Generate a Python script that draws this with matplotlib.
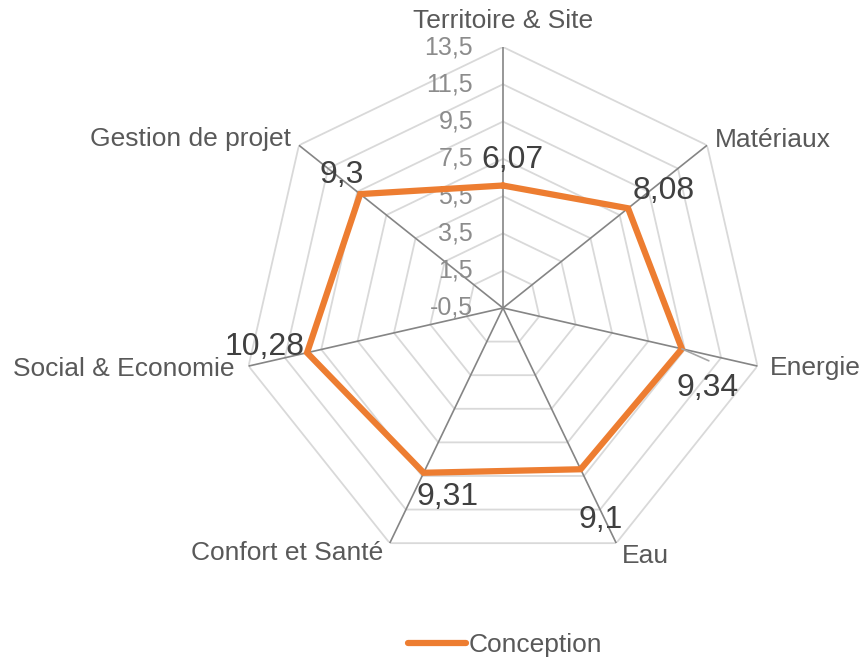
import numpy as np
import matplotlib.pyplot as plt

plt.rcParams["font.family"] = ["Liberation Sans", "DejaVu Sans"]

categories = ["Territoire & Site", "Matériaux", "Energie", "Eau",
              "Confort et Santé", "Social & Economie", "Gestion de projet"]
conception = [6.07, 8.08, 9.34, 9.1, 9.31, 10.28, 9.3]
levels = [-0.5, 1.5, 3.5, 5.5, 7.5, 9.5, 11.5, 13.5]
level_labels = ["-0,5", "1,5", "3,5", "5,5", "7,5", "9,5", "11,5", "13,5"]

# label placement (pixels from the vertex / point): dx, dy, ha
cat_offsets = [(0, 19, "center"), (8, -2, "left"), (12, -9, "left"),
               (6, -20, "left"), (-7, -17, "right"), (-14, -10, "right"),
               (-8, -1, "right")]
val_offsets = [(9, 18), (36, 9), (26, -47), (20, -59), (24, -32),
               (-42, -2), (-18, 11)]

orange = "#ED7D31"
grid_c = "#D9D9D9"
spoke_c = "#858585"

n = len(categories)
angles = np.linspace(0, 2 * np.pi, n, endpoint=False)
closed = np.append(angles, angles[0])

fig = plt.figure(figsize=(8.64, 6.59), dpi=100)
ax = fig.add_axes([242 / 864, (659 - 308 - 261) / 659, 522 / 864, 522 / 659],
                  projection="polar")
ax.set_theta_zero_location("N")
ax.set_theta_direction(-1)
ax.set_ylim(levels[0], levels[-1])
ax.grid(False)
ax.set_xticks([])
ax.set_yticks([])
ax.spines["polar"].set_visible(False)

# polygon gridlines
for lv in levels[1:]:
    ax.plot(closed, [lv] * (n + 1), color=grid_c, lw=1.3, zorder=1)

# spokes
for a in angles:
    ax.plot([a, a], [levels[0], levels[-1]], color=spoke_c, lw=1.2, zorder=2)

# radial value labels along the top spoke
for lv, lbl in zip(levels, level_labels):
    ax.annotate(lbl, xy=(0, lv), xytext=(-30, 0), textcoords="offset pixels",
                ha="right", va="center", fontsize=18, color="#8C8C8C",
                annotation_clip=False)

# category labels
for a, cat, (dx, dy, ha) in zip(angles, categories, cat_offsets):
    ax.annotate(cat, xy=(a, levels[-1]), xytext=(dx, dy),
                textcoords="offset pixels", ha=ha, va="baseline",
                fontsize=19, color="#595959", annotation_clip=False)

vals = np.append(conception, conception[0])
ax.plot(closed, vals, color=orange, lw=4.5, zorder=3, label="Conception",
        solid_joinstyle="miter", solid_capstyle="round")

# data labels
for a, v, (dx, dy) in zip(angles, conception, val_offsets):
    txt = f"{v:g}".replace(".", ",")
    ax.annotate(txt, xy=(a, v), xytext=(dx, dy), textcoords="offset pixels",
                ha="center", va="baseline", fontsize=23, color="#404040",
                zorder=4, annotation_clip=False)

# leader line for the Energie label
ax.annotate("", xy=(angles[2], conception[2]), xytext=(27, -12),
            textcoords="offset pixels", annotation_clip=False, zorder=4,
            arrowprops=dict(arrowstyle="-", color="#A6A6A6", lw=1.2,
                            shrinkA=0, shrinkB=0))

leg = fig.legend(loc="center", bbox_to_anchor=(505 / 864, 1 - 645 / 659),
                 frameon=False, fontsize=19, handlelength=2.2,
                 handletextpad=0.1)
for t in leg.get_texts():
    t.set_color("#595959")

fig.savefig("out.png", dpi=100, facecolor="white")
